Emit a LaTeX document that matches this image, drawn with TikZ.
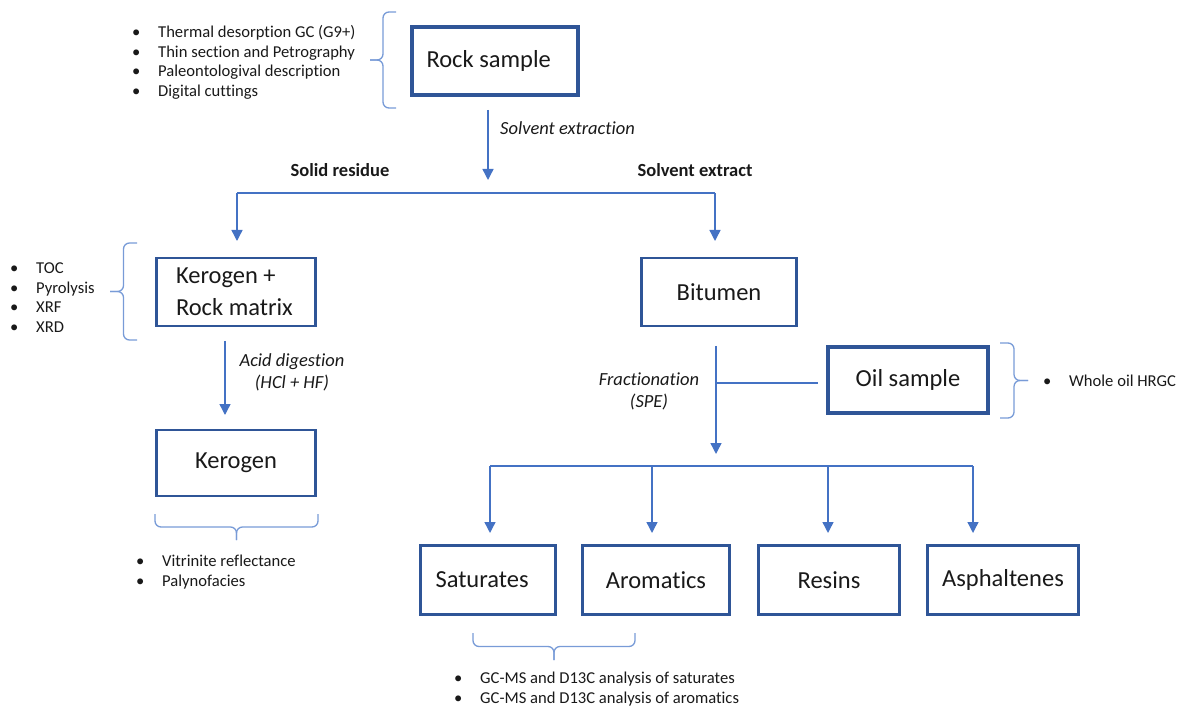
\documentclass[tikz,border=0pt]{standalone}
\usepackage{fontspec}
\setmainfont{Carlito}[Ligatures=NoCommon]
\usetikzlibrary{arrows.meta}
\definecolor{boxblue}{RGB}{47,85,151}
\definecolor{lineblue}{RGB}{68,114,196}
\definecolor{bracecol}{RGB}{120,155,215}
\def\itm#1{\makebox[26pt][l]{\textbullet}#1}
% brace pointing sideways: (x ends, y top, y bottom, x tip)
\def\vbrace(#1,#2,#3,#4){\draw[brc] (#1,#2) -- ({(#1+#4)/2},#2) -- ({(#1+#4)/2},{(#2+#3)/2}) -- (#4,{(#2+#3)/2});
	\draw[brc] (#1,#3) -- ({(#1+#4)/2},#3) -- ({(#1+#4)/2},{(#2+#3)/2}) -- (#4,{(#2+#3)/2});}
% brace pointing down: (y ends, x left, x right, y tip)
\def\hbrace(#1,#2,#3,#4){\draw[brc] (#2,#1) -- (#2,{(#1+#4)/2}) -- ({(#2+#3)/2},{(#1+#4)/2}) -- ({(#2+#3)/2},#4);
	\draw[brc] (#3,#1) -- (#3,{(#1+#4)/2}) -- ({(#2+#3)/2},{(#1+#4)/2}) -- ({(#2+#3)/2},#4);}
\tikzset{
  box/.style={draw=boxblue, line width=2.5pt, inner sep=0pt, text=black!90,
    font=\fontsize{24.5}{32}\selectfont},
  bigbox/.style={box, line width=4pt},
  conn/.style={draw=lineblue, line width=1.4pt},
  arr/.style={conn, -{Triangle[width=11pt,length=11pt]}},
  brc/.style={draw=bracecol, line width=1.3pt, rounded corners=6pt},
  lst/.style={anchor=west, align=flush left, inner sep=0pt, text=black!90,
    font=\fontsize{16.6}{19.7}\selectfont},
  lbl/.style={inner sep=0pt, text=black!90, font=\fontsize{18.5}{22}\selectfont}
}

\begin{document}
\begin{tikzpicture}[x=1pt, y=-1pt]
			%%%%% START %%%%%
			\useasboundingbox (0,0) rectangle (1180,708);
			
			% boxes
			\node[bigbox, minimum width=166, minimum height=68, text width=137, inner xsep=14.5, align=flush left] (rock) at (495,61) {Rock sample};
			\node[box, minimum width=159, minimum height=68, text width=120, inner xsep=19.5, align=flush left] (kerrm) at (236,292) {Kerogen +\\Rock matrix};
			\node[box, minimum width=155, minimum height=68] (bitumen) at (719,292) {Bitumen};
			\node[box, minimum width=159, minimum height=66] (kerogen) at (236,463) {Kerogen};
			\node[bigbox, minimum width=160, minimum height=66] (oil) at (908,380) {Oil sample};
			
			\node[box, minimum width=135, minimum height=69, text width=105, inner xsep=15, align=flush left] (sat) at (488,580) {Saturates};
			\node[box, minimum width=147, minimum height=69] (arom) at (656,580) {Aromatics};
			\node[box, minimum width=141, minimum height=69] (resin) at (829,580) {Resins};
			\node[box, minimum width=151, minimum height=69] (asph) at (1003,580) {Asphaltenes};
			
			% lists
			\node[lst] (rocklist) at (132,62.5) {\itm{Thermal desorption GC (G9+)}\\\itm{Thin section and Petrography}\\\itm{Paleontologival description}\\\itm{Digital cuttings}};
			\node[lst] (krmlist) at (10,297.5) {\itm{TOC}\\\itm{Pyrolysis}\\\itm{XRF}\\\itm{XRD}};
			\node[lst] (kerlist) at (136,572) {\itm{Vitrinite reflectance}\\\itm{Palynofacies}};
			\node[lst] (satlist) at (454,689) {\itm{GC-MS and D13C analysis of saturates}\\\itm{GC-MS and D13C analysis of aromatics}};
			\node[lst] (oillist) at (1043,381) {\itm{Whole oil HRGC}};
			
			% braces
			\vbrace(396,12,108,370)
			\vbrace(137,243,340,110)
			\vbrace(1000,343,418,1028)
			\hbrace(514,155,318,540)
			\hbrace(633,473,635,660)
			
			% labels
			\node[lbl, anchor=west, font=\fontsize{18.5}{22}\itshape] (solvex) at (500,128) {Solvent extraction};
			\node[lbl, font=\fontsize{18.5}{22}\bfseries] (solid) at (340,170) {Solid residue};
			\node[lbl, font=\fontsize{18.5}{22}\bfseries] (extract) at (695,170) {Solvent extract};
			\node[lbl, align=center, font=\fontsize{18.5}{22}\itshape] (acid) at (292,372) {Acid digestion\\(HCl + HF)};
			\node[lbl, align=center, font=\fontsize{18.5}{22}\itshape] (fract) at (649,391) {Fractionation\\(SPE)};
			
			% connectors
			\coordinate (ra1) at (488,110);
			\coordinate (ra2) at (488,180);
			\coordinate (sl) at (237,193);
			\coordinate (sr) at (715,193);
			\coordinate (krmin) at (237,241);
			\coordinate (bitin) at (715,241);
			\coordinate (ka1) at (225,341);
			\coordinate (ka2) at (225,415);
			\coordinate (ba1) at (716,346);
			\coordinate (ba2) at (716,454);
			\coordinate (bj) at (716,383);
			\coordinate (oj) at (818,383);
			
			\draw[arr] (ra1) -- (ra2);
			\draw[conn] (sl) -- (sr);
			\draw[arr] (sl) -- (krmin);
			\draw[arr] (sr) -- (bitin);
			\draw[arr] (ka1) -- (ka2);
			\draw[arr] (ba1) -- (ba2);
			\draw[conn] (bj) -- (oj);
			
			\coordinate (f1) at (490,466);
			\coordinate (f4) at (973,466);
			\draw[conn] (f1) -- (f4);
			\foreach \fx/\fn in {490/sat, 652/arom, 828/resin, 973/asph}{
				\coordinate (t\fn) at (\fx,533);
				\draw[arr] (\fx,466) -- (t\fn);
			}
			%%%%% END %%%%%
\end{tikzpicture}
\end{document}
